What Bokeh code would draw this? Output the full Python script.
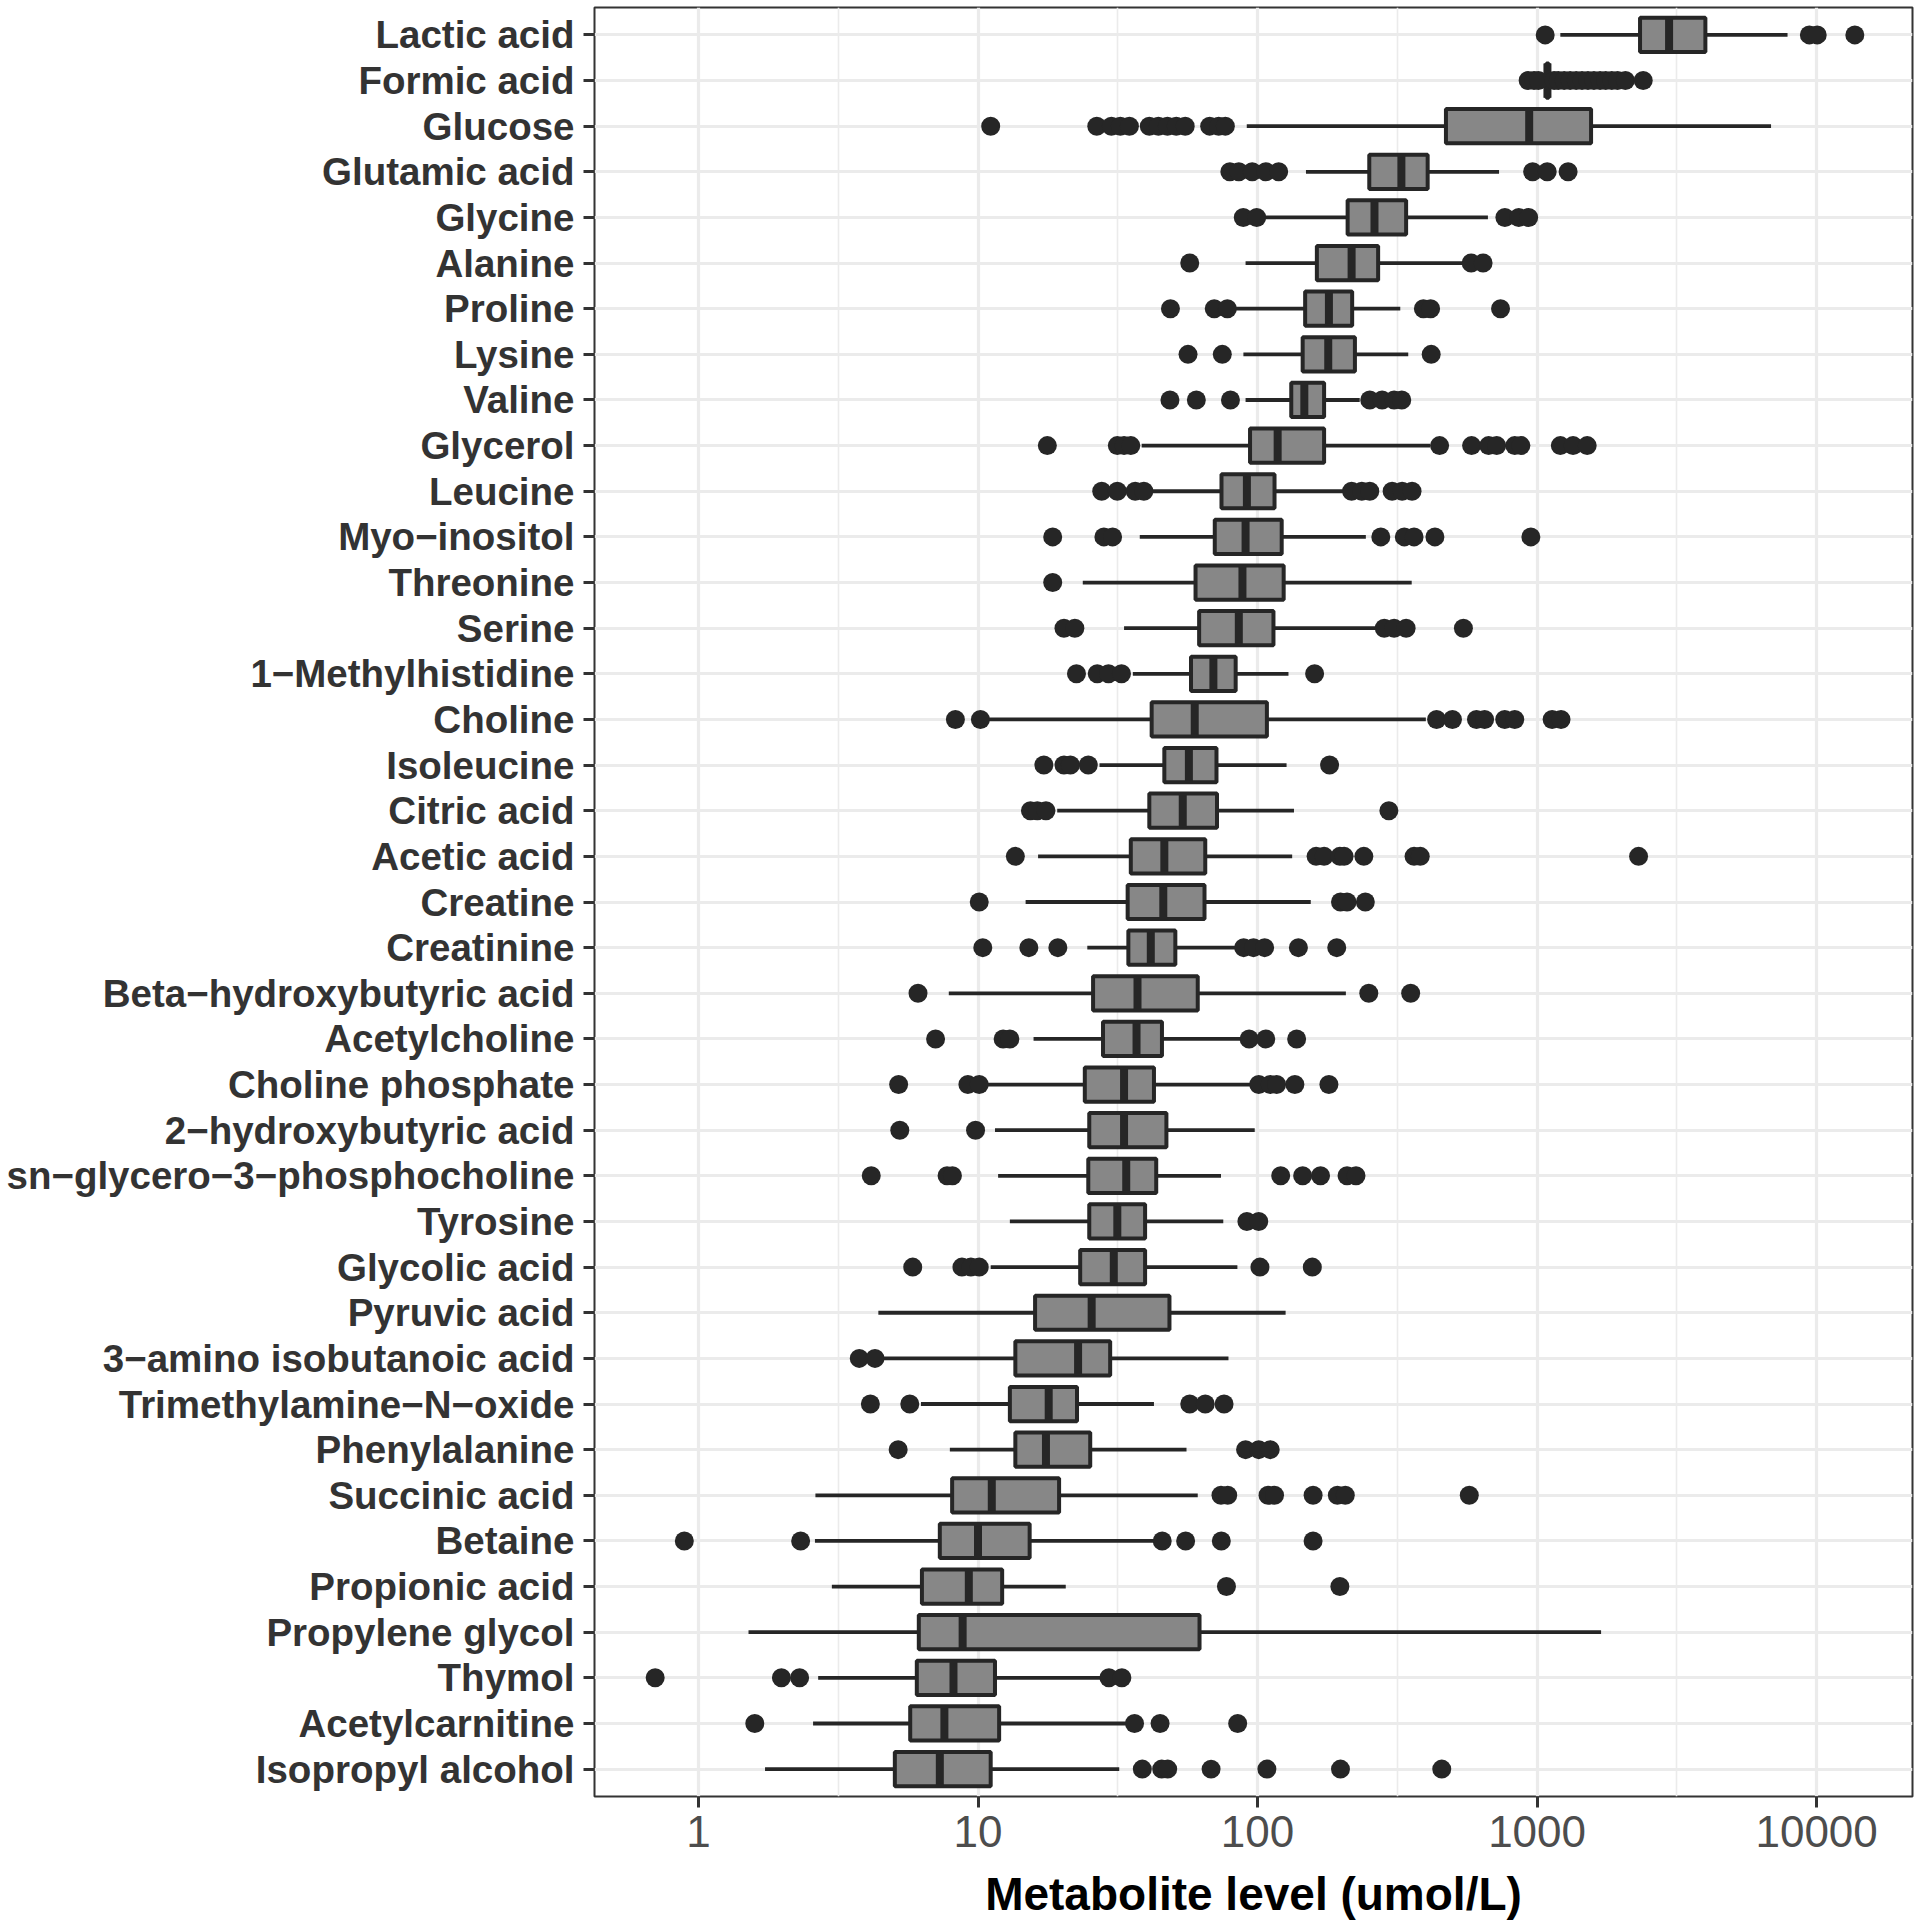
from bokeh.plotting import figure
from bokeh.models import Range1d, FixedTicker, NumeralTickFormatter, ColumnDataSource
from bokeh.embed import file_html
from bokeh.resources import INLINE

metabolites = [
    "Lactic acid", "Formic acid", "Glucose", "Glutamic acid", "Glycine", "Alanine",
    "Proline", "Lysine", "Valine", "Glycerol", "Leucine", "Myo\u2212inositol",
    "Threonine", "Serine", "1\u2212Methylhistidine", "Choline", "Isoleucine",
    "Citric acid", "Acetic acid", "Creatine", "Creatinine",
    "Beta\u2212hydroxybutyric acid", "Acetylcholine", "Choline phosphate",
    "2\u2212hydroxybutyric acid", "sn\u2212glycero\u22123\u2212phosphocholine",
    "Tyrosine", "Glycolic acid", "Pyruvic acid", "3\u2212amino isobutanoic acid",
    "Trimethylamine\u2212N\u2212oxide", "Phenylalanine", "Succinic acid", "Betaine",
    "Propionic acid", "Propylene glycol", "Thymol", "Acetylcarnitine",
    "Isopropyl alcohol",
]

whisker_low = [1211, 1060, 91.5, 149, 106, 90.6, 82.6, 89, 90.6, 38.5, 41.5, 37.9,
               23.7, 33.3, 35.8, 10.8, 27.2, 19.2, 16.4, 14.8, 24.6, 7.86, 15.8,
               10.8, 11.5, 11.8, 13.0, 11.1, 4.4, 4.6, 6.25, 7.93, 2.62, 2.61, 3.0,
               1.51, 2.68, 2.57, 1.73]
q1 = [2335, 1080, 472, 251, 210, 163, 148, 145, 132, 94, 74.3, 70.3,
      60, 61.8, 57.8, 41.8, 46.4, 41, 35.2, 34.3, 34.5, 25.8, 28,
      24.1, 25, 24.8, 25, 23.2, 16, 13.6, 13, 13.6, 8.08, 7.3, 6.3,
      6.14, 6.04, 5.72, 5.04]
median = [2966, 1089, 937, 327, 262, 217, 180, 179, 147, 118, 91.6, 90.6,
          88.3, 85.7, 69.5, 59.6, 56.8, 54, 46.4, 46, 41.5, 37.2, 36.9,
          33.3, 33.3, 33.9, 31.5, 30.6, 25.5, 22.8, 17.9, 17.5, 11.2, 10.0, 9.27,
          8.81, 8.17, 7.58, 7.3]
q3 = [4000, 1100, 1560, 406, 340, 270, 218, 223, 173, 173, 115, 122,
      124, 114, 83.5, 108, 71.3, 71.6, 65, 64.6, 50.8, 61.1, 45.5,
      42.6, 47.2, 43.4, 39.6, 39.6, 48.4, 29.7, 22.6, 25.2, 19.5, 15.3, 12.2,
      62, 11.5, 11.9, 11.1]
whisker_high = [7870, 1125, 6870, 731, 667, 545, 324, 346, 232, 415, 204, 244,
                356, 269, 129, 400, 127, 135, 133, 155, 83.5, 207, 88,
                95, 97.7, 74, 75.4, 84.7, 126, 78.7, 42.6, 55.7, 61.1, 43, 20.6,
                1694, 27.6, 34, 32]
outliers = [
    [1069, 9420, 10050, 13700],
    [929, 975, 1011, 1150, 1191, 1250, 1313, 1380, 1448, 1520, 1597, 1680, 1760, 1850, 1940, 2070, 2397],
    [11.1, 26.6, 30, 32.3, 34.8, 41, 44.2, 47.6, 51.2, 55.1, 67.4, 72.6, 76.7],
    [79.6, 85.7, 95.7, 107, 119, 964, 1087, 1291],
    [88.9, 99.3, 767, 860, 933],
    [57.2, 581, 641],
    [48.8, 70, 78, 392, 416, 740],
    [56.4, 74.8, 418],
    [48.6, 60.4, 80, 252, 279, 308, 328],
    [17.7, 31.5, 33.3, 35.2, 448, 583, 671, 717, 832, 875, 1211, 1345, 1511],
    [27.7, 31.5, 36.5, 39.2, 217, 236, 252, 303, 329, 357],
    [18.5, 28.2, 30.3, 276, 335, 363, 431, 950],
    [18.5],
    [20.3, 22.2, 284, 308, 340, 545],
    [22.5, 26.7, 29.3, 32.6, 160],
    [8.3, 10.2, 437, 498, 607, 649, 766, 832, 1132, 1218],
    [17.2, 20.3, 21.4, 24.8, 181],
    [15.4, 16.3, 17.5, 295],
    [13.6, 162, 173, 197, 204, 240, 363, 382, 2307],
    [10.1, 198, 209, 243],
    [10.4, 15.2, 19.3, 89.2, 96.7, 106, 140, 192],
    [6.1, 250, 353],
    [7.05, 12.3, 13.0, 93.3, 107, 138],
    [5.2, 9.2, 10.1, 101, 111, 117, 136, 180],
    [5.25, 9.8],
    [4.15, 7.75, 8.1, 121, 145, 168, 209, 225],
    [91.6, 101],
    [5.84, 8.76, 9.43, 10.1, 102, 157],
    [],
    [3.76, 4.28],
    [4.12, 5.7, 57.2, 65, 75.9],
    [5.18, 90.6, 101, 111],
    [74, 78.2, 109, 115, 158, 193, 206, 572],
    [0.89, 2.32, 45.6, 55.3, 74.2, 158],
    [77.4, 197],
    [],
    [0.70, 1.98, 2.30, 29.4, 32.7],
    [1.59, 36.3, 44.8, 84.9],
    [38.7, 45.4, 47.7, 68.2, 108, 198, 456],
]

x_ticks = [1, 10, 100, 1000, 10000]
x_minor = [10 ** 0.5, 10 ** 1.5, 10 ** 2.5, 10 ** 3.5]

n = len(metabolites)
ypos = list(range(1, n + 1))
BOX_H = 0.75

src = ColumnDataSource(dict(
    y=ypos, lo=whisker_low, q1=q1, med=median, q3=q3, hi=whisker_high,
    ylo=[y - BOX_H / 2 for y in ypos], yhi=[y + BOX_H / 2 for y in ypos],
))
out_x = [v for vals in outliers for v in vals]
out_y = [ypos[i] for i, vals in enumerate(outliers) for _ in vals]

p = figure(
    x_axis_type="log",
    x_range=Range1d(10 ** -0.372, 10 ** 4.343),
    y_range=Range1d(n + 0.6, 0.4),
    frame_width=1318, frame_height=1789,
    min_border_left=594, min_border_right=6, min_border_top=7, min_border_bottom=118,
    output_backend="svg", toolbar_location=None,
    background_fill_color="white", border_fill_color="white",
)

INK = "#262626"

# grid
p.xgrid.ticker = FixedTicker(ticks=x_ticks, minor_ticks=x_minor)
p.xgrid.grid_line_color = "#EBEBEB"
p.xgrid.grid_line_width = 3.2
p.xgrid.minor_grid_line_color = "#EBEBEB"
p.xgrid.minor_grid_line_width = 1.6
p.ygrid.ticker = FixedTicker(ticks=ypos)
p.ygrid.grid_line_color = "#EBEBEB"
p.ygrid.grid_line_width = 3.2

p.outline_line_color = "#333333"
p.outline_line_width = 2

# glyphs
p.segment(x0="lo", x1="hi", y0="y", y1="y", source=src, line_color=INK, line_width=3.8)
p.hbar(y="y", left="q1", right="q3", height=BOX_H, source=src,
       fill_color="#878787", line_color=INK, line_width=4)
p.segment(x0="med", x1="med", y0="ylo", y1="yhi", source=src, line_color=INK, line_width=8)
p.scatter(out_x, out_y, size=19, marker="circle", fill_color=INK, line_color=None)

# x axis
xa = p.xaxis[0]
xa.ticker = FixedTicker(ticks=x_ticks, minor_ticks=x_minor)
xa.formatter = NumeralTickFormatter(format="0")
xa.axis_line_color = None
xa.major_tick_out = 11
xa.major_tick_in = 0
xa.minor_tick_out = 0
xa.minor_tick_in = 0
xa.major_tick_line_color = "#333333"
xa.major_tick_line_width = 3
xa.major_label_standoff = 8
xa.major_label_text_font = "Liberation Sans"
xa.major_label_text_font_size = "44px"
xa.major_label_text_color = "#4D4D4D"
xa.axis_label = "Metabolite level (umol/L)"
xa.axis_label_text_font = "Liberation Sans"
xa.axis_label_text_font_size = "46px"
xa.axis_label_text_font_style = "bold"
xa.axis_label_text_color = "black"
xa.axis_label_standoff = 18

# y axis
ya = p.yaxis[0]
ya.ticker = FixedTicker(ticks=ypos)
ya.major_label_overrides = {y: name for y, name in zip(ypos, metabolites)}
ya.axis_line_color = None
ya.major_tick_out = 11
ya.major_tick_in = 0
ya.minor_tick_out = 0
ya.minor_tick_in = 0
ya.major_tick_line_color = "#333333"
ya.major_tick_line_width = 3
ya.major_label_standoff = 9
ya.major_label_text_font = "Liberation Sans"
ya.major_label_text_font_size = "38.5px"
ya.major_label_text_font_style = "bold"
ya.major_label_text_color = "#333333"

open("out.html", "w").write(file_html(p, INLINE))
